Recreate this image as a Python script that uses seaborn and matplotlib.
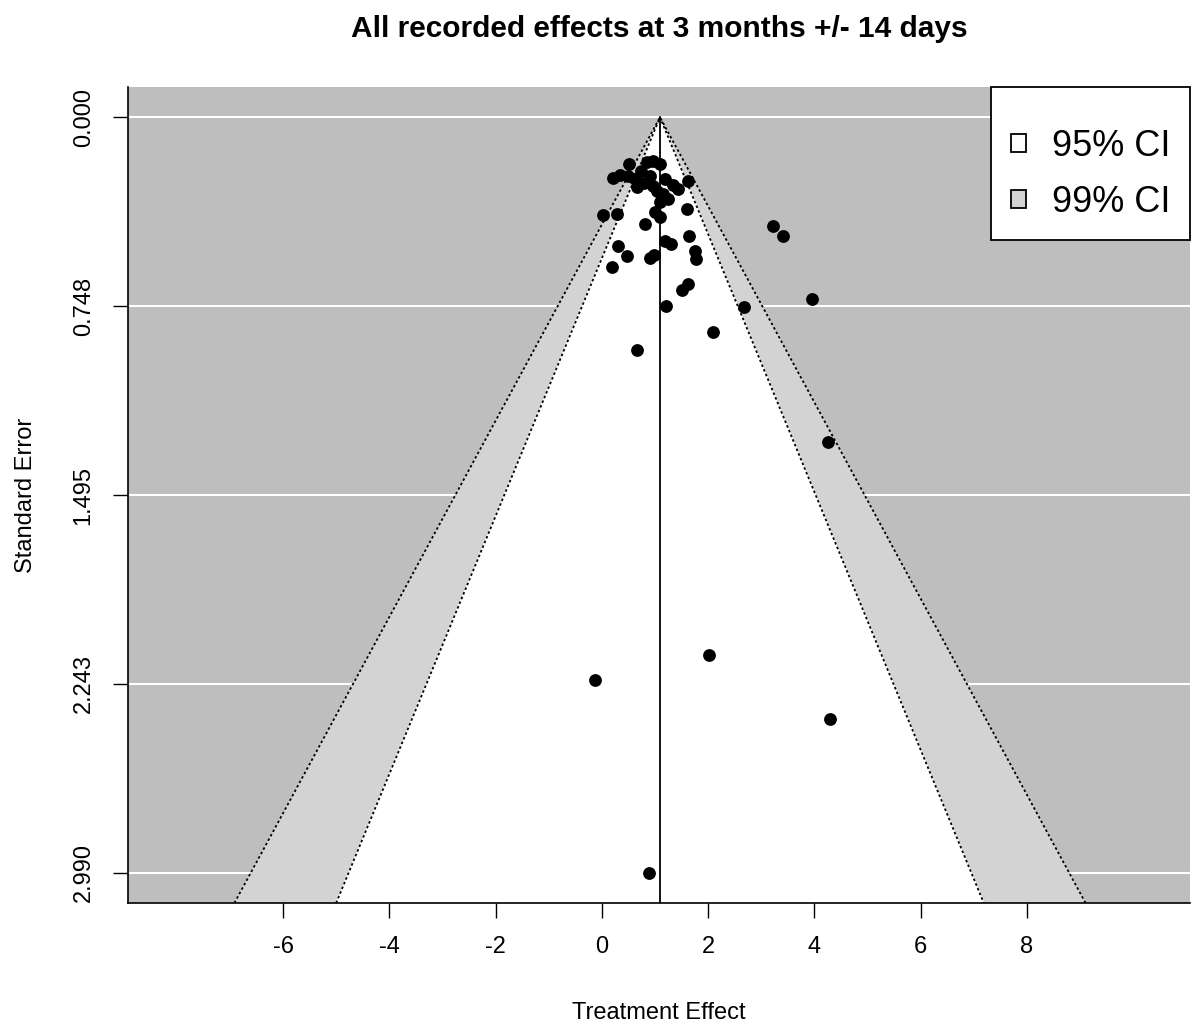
import numpy as np
import pandas as pd
import matplotlib
matplotlib.use("Agg")
import matplotlib.pyplot as plt
from matplotlib.patches import Patch
import seaborn as sns

effect = [0.51, 0.49, 0.21, 0.62, 0.66, 0.85, 0.96, 1.09, 0.91, 1.19,
          0.96, 1.04, 1.15, 1.24, 1.43, 1.62, 1.60, 1.00, 0.28, 0.02,
          1.09, 0.81, 1.64, 0.30, 0.47, 0.91, 0.98, 1.19, 1.30, 1.75,
          1.77, 0.19, 3.22, 3.41, 3.95, 2.67, 2.09, 0.66, 1.21, 1.51,
          1.62, 4.25, 2.01, -0.13, 4.29, 0.89, 0.74, 0.79, 1.34, 1.09,
          0.34]
std_err = [0.186, 0.234, 0.242, 0.246, 0.277, 0.178, 0.174, 0.186, 0.234, 0.246,
           0.273, 0.293, 0.305, 0.325, 0.285, 0.253, 0.364, 0.376, 0.384, 0.388,
           0.396, 0.424, 0.471, 0.511, 0.551, 0.558, 0.547, 0.491, 0.503, 0.531,
           0.562, 0.594, 0.432, 0.471, 0.721, 0.749, 0.848, 0.923, 0.745, 0.685,
           0.661, 1.287, 2.127, 2.226, 2.380, 2.990, 0.214, 0.261, 0.269, 0.337,
           0.230]
pooled = 1.093
levels = ["99% CI", "95% CI"]
z_values = [2.576, 1.960]
level_colors = ["#D3D3D3", "#FFFFFF"]
y_ticks = [0.0, 0.7475, 1.495, 2.2425, 2.99]
y_tick_labels = ["0.000", "0.748", "1.495", "2.243", "2.990"]
x_ticks = [-6, -4, -2, 0, 2, 4, 6, 8]

df = pd.DataFrame({"effect": effect, "se": std_err})

sns.set_style("white")
plt.rcParams["font.family"] = ["Liberation Sans", "DejaVu Sans"]
plt.rcParams["text.color"] = "black"
plt.rcParams["axes.labelcolor"] = "black"
plt.rcParams["xtick.color"] = "black"
plt.rcParams["ytick.color"] = "black"

fig = plt.figure(figsize=(11.93, 10.30), dpi=100)
ax = fig.add_axes([0.1073, 0.1233, 0.8902, 0.7922])
ax.set_facecolor("#BEBEBE")

y_top, y_bot = -0.1196, 3.1096
x_lo, x_hi = -8.92, 11.07

# white grid behind the funnel
for yt in y_ticks:
    ax.axhline(yt, color="white", lw=1.5, zorder=0.5)

# funnel regions, widest first
for i, (z, col) in enumerate(zip(z_values, level_colors)):
    xs = [pooled - z * y_bot, pooled, pooled + z * y_bot]
    ys = [y_bot, 0, y_bot]
    ax.fill(xs, ys, color=col, zorder=1 + i)
    ax.plot(xs, ys, color="black", lw=1.3, ls=(0, (1.4, 1.4)), zorder=3)

ax.plot([pooled, pooled], [0, y_bot], color="black", lw=1.3, zorder=4)

sns.scatterplot(data=df, x="effect", y="se", color="black", s=85,
                linewidth=0, ax=ax, zorder=5)

ax.set_xlim(x_lo, x_hi)
ax.set_ylim(y_bot, y_top)
ax.set_xticks(x_ticks)
ax.set_xticklabels([str(t) for t in x_ticks])
ax.set_yticks(y_ticks)
ax.set_yticklabels(y_tick_labels, rotation=90, va="center")
ax.tick_params(axis="both", direction="out", length=11, width=1,
               color="black", labelsize=17, pad=13, left=True, bottom=True)

for side in ["top", "right"]:
    ax.spines[side].set_visible(False)
for side in ["left", "bottom"]:
    ax.spines[side].set_color("black")
    ax.spines[side].set_linewidth(1.2)

ax.set_xlabel("Treatment Effect", fontsize=17)
ax.set_ylabel("Standard Error", fontsize=17)
ax.xaxis.set_label_coords(0.5, -0.121)
ax.yaxis.set_label_coords(-0.086, 0.5)

fig.text(0.5524, 0.9715, "All recorded effects at 3 months +/- 14 days",
         ha="center", va="center", fontsize=21.5, fontweight="bold")

handles = [Patch(facecolor="white", edgecolor="black", lw=1.3, label="95% CI"),
           Patch(facecolor="#D3D3D3", edgecolor="black", lw=1.3, label="99% CI")]
leg = ax.legend(handles=handles, loc="upper right", bbox_to_anchor=(1, 1),
                borderaxespad=0, fontsize=26, fancybox=False, framealpha=1,
                edgecolor="black", handlelength=0.4, handleheight=0.38,
                handletextpad=0.72, borderpad=0.55, labelspacing=0.58,
                title=" ", title_fontsize=1)
leg.get_frame().set_linewidth(1.3)
leg.set_zorder(10)

fig.savefig("out.png", dpi=100)
